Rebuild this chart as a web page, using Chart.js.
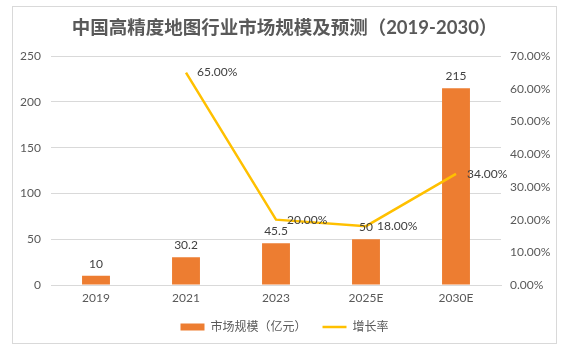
<!DOCTYPE html>
<html>
<head>
<meta charset="utf-8">
<script src="https://cdn.jsdelivr.net/npm/chart.js@4.4.1/dist/chart.umd.min.js"></script>
<style>
  body { margin: 0; background: #fff; }
  #box { position: absolute; left: 12px; top: 6px; width: 543px; height: 336px; border: 1px solid #d9d9d9; }
  canvas { display: block; }
</style>
</head>
<body>
<div id="box"><canvas id="myChart" width="543" height="336"></canvas></div>
<script>
// 中国高精度地图行业市场规模及预测
var years = ['2019', '2021', '2023', '2025E', '2030E'];
var marketSize = [10, 30.2, 45.5, 50, 215];      // 亿元
var growthRate = [null, 65, 20, 18, 34];         // %

var TextColor = '#595959';
var BarColor = '#ED7D31';
var LineColor = '#FFC000';
var FontFamily = 'Lato, "Noto Sans CJK SC", sans-serif';

// simple value labels (no datalabels plugin available)
var valueLabels = {
    id: 'valueLabels',
    afterDatasetsDraw: function (chart) {
        var ctx = chart.ctx;
        ctx.save();
        ctx.font = '12px ' + FontFamily;
        ctx.fillStyle = '#404040';
        chart.getDatasetMeta(0).data.forEach(function (bar, i) {
            ctx.textAlign = 'center';
            ctx.textBaseline = 'bottom';
            ctx.fillText(String(marketSize[i]), bar.x, bar.y - 6);
        });
        chart.getDatasetMeta(1).data.forEach(function (pt, i) {
            if (growthRate[i] === null) return;
            ctx.textAlign = 'left';
            ctx.textBaseline = 'middle';
            ctx.fillText(growthRate[i].toFixed(2) + '%', pt.x + 11, pt.y);
        });
        ctx.restore();
    }
};

var ctx = document.getElementById('myChart').getContext('2d');
var myChart = new Chart(ctx, {
    type: 'bar',
    data: {
        labels: years,
        datasets: [{
            label: '市场规模（亿元）',
            data: marketSize,
            backgroundColor: BarColor,
            yAxisID: 'y',
            barPercentage: 0.62,
            categoryPercentage: 0.5,
            pointStyle: 'rect',
            order: 2,
        }, {
            type: 'line',
            label: '增长率',
            data: growthRate,
            borderColor: LineColor,
            backgroundColor: LineColor,
            borderWidth: 2.5,
            pointRadius: 0,
            pointStyle: 'line',
            tension: 0,
            yAxisID: 'y1',
            order: 1,
        }],
    },
    options: {
        responsive: false,
        animation: false,
        layout: { padding: { left: 0, right: 0, top: 0, bottom: 0 } },
        plugins: {
            title: {
                display: true,
                text: '中国高精度地图行业市场规模及预测（2019-2030）',
                color: TextColor,
                font: { family: FontFamily, size: 18.5, weight: 'bold' },
                padding: { top: 10, bottom: 17 },
            },
            legend: {
                position: 'bottom',
                labels: {
                    color: TextColor,
                    font: { family: FontFamily, size: 12 },
                    usePointStyle: true,
                    pointStyleWidth: 24,
                    boxHeight: 7,
                    padding: 16,
                    sort: function (a, b) { return a.datasetIndex - b.datasetIndex; },
                },
            },
            tooltip: { enabled: false },
        },
        scales: {
            x: {
                grid: { display: false, drawTicks: false },
                border: { color: '#d9d9d9' },
                ticks: { color: TextColor, font: { family: FontFamily, size: 12 }, padding: 6 },
                afterFit: function (scale) { scale.height = 20; },
            },
            y: {
                position: 'left',
                min: 0,
                max: 250,
                ticks: { stepSize: 50, color: TextColor, font: { family: FontFamily, size: 12 }, padding: 10 },
                grid: { color: '#d9d9d9', drawTicks: false },
                border: { display: false },
                afterFit: function (scale) { scale.width = 38; },
            },
            y1: {
                position: 'right',
                min: 0,
                max: 70,
                ticks: {
                    stepSize: 10,
                    color: TextColor,
                    font: { family: FontFamily, size: 12 },
                    padding: 9,
                    callback: function (v) { return v.toFixed(2) + '%'; },
                },
                grid: { display: false, drawTicks: false },
                border: { display: false },
                afterFit: function (scale) { scale.width = 55; },
            },
        },
    },
    plugins: [valueLabels],
});
</script>
</body>
</html>
